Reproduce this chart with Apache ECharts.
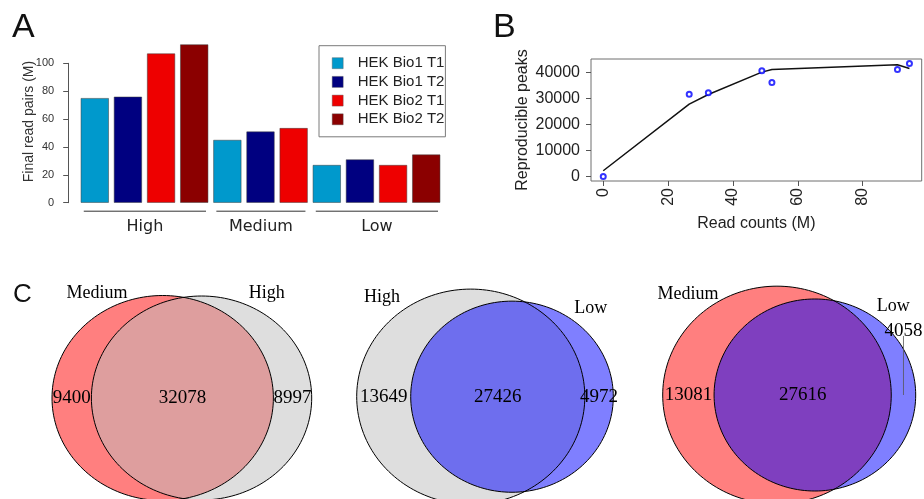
<!DOCTYPE html>
<html>
<head>
<meta charset="utf-8">
<script src="https://cdn.jsdelivr.net/npm/echarts@6/dist/echarts.min.js"></script>
<style>
  html, body { margin: 0; padding: 0; background: #fff; }
  #chart { width: 924px; height: 499px; }
</style>
</head>
<body>
<div id="chart"></div>
<script>
// ---- Panel A: final read pairs (M) per sample, by sequencing depth ----
const depthGroups = ['High', 'Medium', 'Low'];
const sampleNames = ['HEK Bio1 T1', 'HEK Bio1 T2', 'HEK Bio2 T1', 'HEK Bio2 T2'];
const readPairsHigh = [75, 76, 107, 113.5];
const readPairsMedium = [45, 51, 53.5, null];
const readPairsLow = [27, 31, 27, 34.5];
const readPairTicks = [0, 20, 40, 60, 80, 100];

// ---- Panel B: reproducible peaks against read counts ----
const readCounts = [0, 26.5, 32.4, 48.9, 52.0, 90.7, 94.4];
const reproduciblePeaks = [0, 31600, 32200, 40600, 36100, 41100, 43400];
const fittedPeaks = [2200, 27800, 31500, 40100, 41100, 42900, 41500];
const readCountTicks = [0, 20, 40, 60, 80];
const peakTicks = [0, 10000, 20000, 30000, 40000];

// ---- Panel C: peak overlaps between depth groups (left only, both, right only) ----
const vennSetNames = [['Medium', 'High'], ['High', 'Low'], ['Medium', 'Low']];
const vennCounts = [[9400, 32078, 8997], [13649, 27426, 4972], [13081, 27616, 4058]];

// ---- styling / layout ----
const SANS = '"Liberation Sans", Arial, sans-serif';
const SERIF = '"Liberation Serif", "Times New Roman", serif';
const barColors = ['#0099cc', '#000080', '#ee0000', '#8b0000'];
const setFill = { Medium: 'rgba(255,0,0,0.5)', High: 'rgba(190,190,190,0.5)', Low: 'rgba(0,0,255,0.5)' };
const vennLayout = [
  { left: 52, right: 311.7, cy: 398, stretch: 1.08, nameAngle: 30, nameDist: 1.185 },
  { left: 356.7, right: 613.3, cy: 396.7, stretch: 1.06, nameAngle: 40, nameDist: 1.21 },
  { left: 662.7, right: 915.7, cy: 395, stretch: 1.05, nameAngle: 40, nameDist: 1.21 }
];
const plain = v => String(v);

const chart = echarts.init(document.getElementById('chart'), null, { renderer: 'canvas' });

// Panel A: one bar slot per (group, sample) that has a value
const groupValues = { High: readPairsHigh, Medium: readPairsMedium, Low: readPairsLow };
const slots = [];
const groupSpans = [];
depthGroups.forEach(g => {
  const first = slots.length;
  groupValues[g].forEach((v, si) => { if (v != null) slots.push({ group: g, sample: si, value: v }); });
  groupSpans.push({ group: g, first: first, last: slots.length - 1 });
});
const slotNames = slots.map(s => s.group + ' / ' + sampleNames[s.sample]);
const BAR_W = 28;
const barSeries = sampleNames.map((name, si) => ({
  type: 'bar', name: name, xAxisIndex: 0, yAxisIndex: 0,
  barWidth: BAR_W, barGap: '-100%', clip: false, silent: true,
  itemStyle: { color: barColors[si], borderColor: '#3a3a3a', borderWidth: 0.5 },
  data: slots.map(s => (s.sample === si ? s.value : null))
}));

// Panel B: R-style 4% padding of the data range
function padded(values) {
  const lo = Math.min(...values), hi = Math.max(...values), p = (hi - lo) * 0.04;
  return [lo - p, hi + p];
}
const xExt = padded(readCounts);
const yExt = padded(reproduciblePeaks.concat(fittedPeaks));

// Panel C: area-proportional two-set Venn geometry
function lensArea(r1, r2, d) {
  if (d >= r1 + r2) return 0;
  if (d <= Math.abs(r1 - r2)) return Math.PI * Math.min(r1, r2) ** 2;
  const a = r1 * r1 * Math.acos((d * d + r1 * r1 - r2 * r2) / (2 * d * r1));
  const b = r2 * r2 * Math.acos((d * d + r2 * r2 - r1 * r1) / (2 * d * r2));
  const c = 0.5 * Math.sqrt((-d + r1 + r2) * (d + r1 - r2) * (d - r1 + r2) * (d + r1 + r2));
  return a + b - c;
}
function centreDistance(r1, r2, overlap) {
  let lo = Math.abs(r1 - r2), hi = r1 + r2;
  for (let i = 0; i < 80; i++) {
    const mid = (lo + hi) / 2;
    if (lensArea(r1, r2, mid) > overlap) lo = mid; else hi = mid;
  }
  return (lo + hi) / 2;
}

const vennGrids = [], vennX = [], vennY = [], vennSeries = [];
vennCounts.forEach((c, vi) => {
  const L = vennLayout[vi];
  const [nameA, nameB] = vennSetNames[vi];
  const rA = Math.sqrt((c[0] + c[1]) / Math.PI);
  const rB = Math.sqrt((c[1] + c[2]) / Math.PI);
  const d = centreDistance(rA, rB, c[1]);
  const xMin = -rA, xMax = d + rB;
  const kx = (L.right - L.left) / (xMax - xMin);
  const ky = kx / L.stretch;
  const halfH = 200;
  const yHalf = halfH / ky;
  const gi = 2 + vi;
  vennGrids.push({ left: L.left, width: L.right - L.left, top: L.cy - halfH, height: 2 * halfH, outerBoundsMode: 'none', containLabel: false });
  vennX.push({ type: 'value', gridIndex: gi, min: xMin, max: xMax, show: false });
  vennY.push({ type: 'value', gridIndex: gi, min: -yHalf, max: yHalf, show: false });

  const total = c[0] + c[1] + c[2];
  const regionX = [(-rA + (d - rB)) / 2, ((d - rB) + rA) / 2, (rA + d + rB) / 2];
  const regionR = [rA, rA, rB];
  const ang = L.nameAngle * Math.PI / 180, dist = L.nameDist;
  const items = [
    { kind: 'fill', x: 0, r: rA, color: setFill[nameA] },
    { kind: 'fill', x: d, r: rB, color: setFill[nameB] },
    { kind: 'edge', x: 0, r: rA },
    { kind: 'edge', x: d, r: rB }
  ];
  c.forEach((n, k) => {
    const external = n / total < 0.1;
    items.push({ kind: external ? 'countOut' : 'count', x: regionX[k], y: external ? 0.667 * regionR[k] : 0, text: String(n) });
  });
  items.push({ kind: 'name', x: -dist * rA * Math.sin(ang), y: dist * rA * Math.cos(ang), text: nameA });
  items.push({ kind: 'name', x: d + dist * rB * Math.sin(ang), y: dist * rB * Math.cos(ang), text: nameB });

  vennSeries.push({
    type: 'custom', xAxisIndex: gi, yAxisIndex: gi, silent: true, clip: false,
    data: items.map(it => [it.x, it.y || 0]),
    renderItem: function (params, api) {
      const it = items[params.dataIndex];
      if (it.kind === 'fill' || it.kind === 'edge') {
        const pts = [];
        for (let t = 0; t < 180; t++) {
          const a = t / 180 * Math.PI * 2;
          pts.push(api.coord([it.x + it.r * Math.cos(a), it.r * Math.sin(a)]));
        }
        return {
          type: 'polygon', shape: { points: pts },
          style: it.kind === 'fill'
            ? { fill: it.color, stroke: null }
            : { fill: null, stroke: '#000', lineWidth: 1 }
        };
      }
      const p = api.coord([it.x, it.y || 0]);
      const isName = it.kind === 'name';
      const txt = {
        type: 'text', x: p[0], y: p[1],
        style: {
          text: it.text, fill: '#000',
          font: (isName ? 18 : 19) + 'px ' + SERIF,
          textAlign: 'center', align: 'center',
          textVerticalAlign: 'middle', verticalAlign: 'middle'
        }
      };
      if (it.kind === 'countOut') {
        const base = api.coord([it.x, 0]);
        return {
          type: 'group', children: [
            { type: 'line', shape: { x1: base[0], y1: base[1], x2: base[0], y2: p[1] + 5 }, style: { stroke: '#555', lineWidth: 0.8 } },
            txt
          ]
        };
      }
      return txt;
    }
  });
});

const option = {
  animation: false,
  grid: [
    { left: 78.2, top: 63.3, width: 364.6, height: 139.4, outerBoundsMode: 'none', containLabel: false },
    { left: 591, top: 59, width: 330.7, height: 122, show: true, borderColor: '#6e6e6e', borderWidth: 1, outerBoundsMode: 'none', containLabel: false },
    ...vennGrids
  ],
  legend: {
    data: sampleNames, orient: 'vertical', left: 319, top: 45.7,
    padding: [10, 1, 10, 13], itemGap: 3.7,
    itemWidth: 11, itemHeight: 11, icon: 'rect',
    itemStyle: { borderColor: '#555', borderWidth: 0.4 },
    borderColor: '#7a7a7a', borderWidth: 1,
    textStyle: { fontFamily: SANS, fontSize: 15, color: '#222', lineHeight: 15, padding: [0, 0, 0, 9.5] },
    selectedMode: false
  },
  xAxis: [
    { type: 'category', gridIndex: 0, data: slotNames, axisLine: { show: false }, axisTick: { show: false }, axisLabel: { show: false } },
    {
      type: 'value', gridIndex: 1, min: xExt[0], max: xExt[1],
      axisLine: { show: false, onZero: false }, splitLine: { show: false },
      axisTick: { show: true, length: 5, customValues: readCountTicks, lineStyle: { color: '#555' } },
      axisLabel: { customValues: readCountTicks, formatter: plain, rotate: 90, margin: 7, fontFamily: SANS, fontSize: 16, color: '#222' },
      name: 'Read counts (M)', nameLocation: 'middle', nameGap: 35, nameMoveOverlap: false,
      nameTextStyle: { fontFamily: SANS, fontSize: 16, color: '#222' }
    },
    ...vennX
  ],
  yAxis: [
    {
      type: 'value', gridIndex: 0, min: readPairTicks[0], max: readPairTicks[readPairTicks.length - 1], interval: 20, offset: 10,
      axisLine: { show: true, lineStyle: { color: '#555' } },
      axisTick: { show: true, length: 5, lineStyle: { color: '#555' } },
      axisLabel: { margin: 14, formatter: plain, fontFamily: SANS, fontSize: 11, color: '#333' },
      splitLine: { show: false },
      name: 'Final read pairs (M)', nameLocation: 'middle', nameGap: 32, nameMoveOverlap: false,
      nameTextStyle: { fontFamily: SANS, fontSize: 14, color: '#333', padding: [0, 0, 0, 23] }
    },
    {
      type: 'value', gridIndex: 1, min: yExt[0], max: yExt[1],
      axisLine: { show: false, onZero: false }, splitLine: { show: false },
      axisTick: { show: true, length: 5, customValues: peakTicks, lineStyle: { color: '#555' } },
      axisLabel: { customValues: peakTicks, formatter: plain, margin: 11, fontFamily: SANS, fontSize: 16, color: '#222' },
      name: 'Reproducible peaks', nameLocation: 'middle', nameGap: 60, nameMoveOverlap: false,
      nameTextStyle: { fontFamily: SANS, fontSize: 16, color: '#222' }
    },
    ...vennY
  ],
  series: [
    ...barSeries,
    {
      type: 'line', xAxisIndex: 1, yAxisIndex: 1, silent: true, showSymbol: false, symbol: 'none',
      lineStyle: { color: '#111', width: 1.5 },
      data: readCounts.map((x, i) => [x, fittedPeaks[i]])
    },
    {
      type: 'scatter', xAxisIndex: 1, yAxisIndex: 1, silent: true, clip: false, z: 5,
      symbol: 'emptyCircle', symbolSize: 5,
      itemStyle: { color: '#0000ff', borderColor: '#0000ff', borderWidth: 1.7 },
      data: readCounts.map((x, i) => [x, reproduciblePeaks[i]])
    },
    ...vennSeries
  ]
};
chart.setOption(option);

// Group brackets and labels under the bars, placed from the category axis
const baseY = chart.convertToPixel({ yAxisIndex: 0 }, 0);
const graphics = [
  { type: 'text', left: 12, top: 11, style: { text: 'A', font: '34px ' + SANS, fill: '#111' } },
  { type: 'text', left: 493, top: 11, style: { text: 'B', font: '34px ' + SANS, fill: '#111' } },
  { type: 'text', left: 13, top: 282, style: { text: 'C', font: '26px ' + SANS, fill: '#111' } }
];
groupSpans.forEach(g => {
  const x0 = chart.convertToPixel({ xAxisIndex: 0 }, g.first) - BAR_W / 2 + 3;
  const x1 = chart.convertToPixel({ xAxisIndex: 0 }, g.last) + BAR_W / 2 - 2.2;
  graphics.push({ type: 'line', shape: { x1: x0, y1: baseY + 8.5, x2: x1, y2: baseY + 8.5 }, style: { stroke: '#333', lineWidth: 1 } });
  graphics.push({
    type: 'text', x: (x0 + x1) / 2, y: baseY + 24,
    style: { text: g.group, font: '16px "DejaVu Sans", sans-serif', fill: '#222', textAlign: 'center', textVerticalAlign: 'middle', align: 'center', verticalAlign: 'middle' }
  });
});
chart.setOption({ graphic: graphics });
</script>
</body>
</html>
